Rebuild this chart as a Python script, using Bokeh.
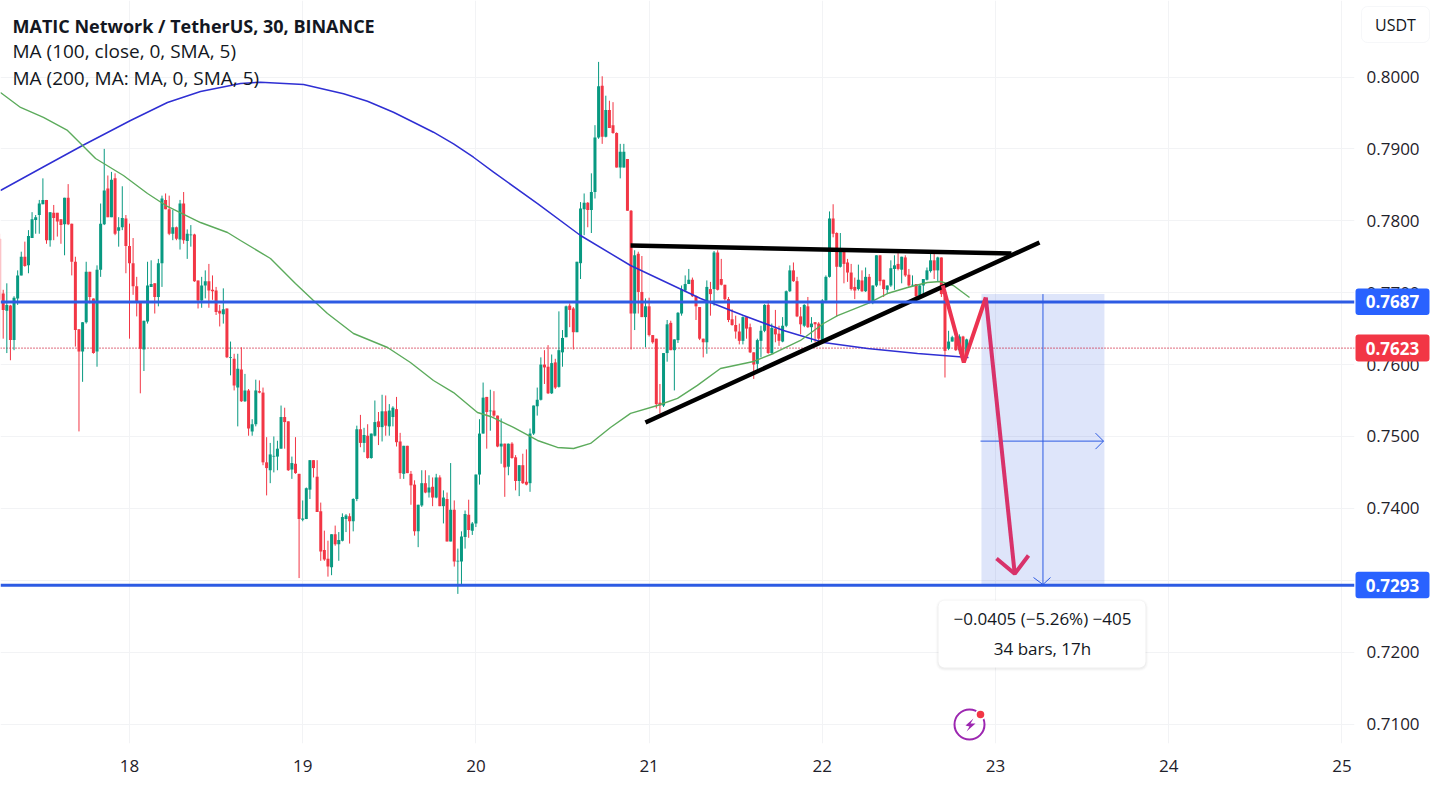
from bokeh.plotting import figure
from bokeh.embed import file_html
from bokeh.resources import INLINE
from bokeh.models import Range1d, FixedTicker, PrintfTickFormatter, Label, BoxAnnotation, ColumnDataSource

FONT = "Open Sans"
title_lines = ["MATIC Network / TetherUS, 30, BINANCE", "MA (100, close, 0, SMA, 5)", "MA (200, MA: MA, 0, SMA, 5)"]
day_ticks = [18, 19, 20, 21, 22, 23, 24, 25]
price_ticks = [0.71, 0.72, 0.73, 0.74, 0.75, 0.76, 0.77, 0.78, 0.79, 0.80]
level_upper = 0.7687
level_lower = 0.7293
last_price = 0.7623
first_bar = -36
bars_per_day = 48

open_p = [
 .7775,.7699,.7675,.7682,.7634,.7692,.7724,.7750,.7738,.7776,
 .7801,.7808,.7823,.7829,.7773,.7811,.7811,.7802,.7795,.7832,
 .7796,.7743,.7649,.7618,.7659,.7729,.7692,.7618,.7732,.7795,
 .7845,.7805,.7859,.7786,.7791,.7803,.7765,.7741,.7709,.7686,
 .7621,.7660,.7708,.7713,.7694,.7741,.7829,.7816,.7782,.7791,
 .7774,.7824,.7772,.7780,.7781,.7717,.7689,.7710,.7716,.7704,
 .7703,.7675,.7670,.7678,.7609,.7608,.7568,.7593,.7549,.7564,
 .7507,.7517,.7563,.7561,.7464,.7453,.7472,.7472,.7483,.7527,
 .7521,.7454,.7462,.7448,.7384,.7385,.7426,.7467,.7444,.7396,
 .7342,.7330,.7318,.7364,.7350,.7355,.7385,.7389,.7382,.7413,
 .7510,.7491,.7501,.7470,.7501,.7521,.7513,.7535,.7514,.7527,
 .7538,.7493,.7448,.7487,.7448,.7433,.7368,.7404,.7435,.7422,
 .7430,.7415,.7443,.7403,.7413,.7354,.7398,.7326,.7326,.7360,
 .7391,.7369,.7379,.7447,.7504,.7555,.7535,.7536,.7529,.7486,
 .7490,.7458,.7490,.7471,.7438,.7460,.7437,.7435,.7504,.7542,
 .7551,.7600,.7597,.7560,.7603,.7569,.7617,.7638,.7682,.7678,
 .7645,.7741,.7816,.7825,.7815,.7840,.7916,.7988,.7917,.7954,
 .7933,.7922,.7874,.7874,.7886,.7814,.7671,.7754,.7701,.7666,
 .7681,.7641,.7636,.7547,.7543,.7616,.7658,.7620,.7634,.7671,
 .7703,.7712,.7718,.7695,.7680,.7636,.7631,.7705,.7705,.7756,
 .7719,.7711,.7691,.7663,.7655,.7646,.7633,.7666,.7652,.7617,
 .7601,.7633,.7647,.7683,.7616,.7650,.7643,.7632,.7654,.7702,
 .7731,.7716,.7667,.7654,.7681,.7652,.7659,.7657,.7631,.7689,
 .7722,.7803,.7783,.7736,.7759,.7742,.7728,.7708,.7705,.7717,
 .7702,.7722,.7687,.7710,.7752,.7718,.7704,.7710,.7733,.7740,
 .7732,.7749,.7725,.7710,.7712,.7696,.7710,.7718,.7730,.7745,
 .7731,.7749,.7701,.7622,.7632,.7638,.7620,.7639,.7614]
close_p = [
 .7690,.7676,.7683,.7634,.7693,.7724,.7750,.7737,.7779,.7802,
 .7805,.7824,.7829,.7773,.7812,.7804,.7799,.7794,.7832,.7795,
 .7743,.7648,.7618,.7659,.7729,.7694,.7616,.7732,.7796,.7842,
 .7805,.7857,.7782,.7791,.7804,.7765,.7741,.7709,.7686,.7622,
 .7661,.7710,.7712,.7694,.7741,.7831,.7816,.7782,.7791,.7775,
 .7824,.7773,.7782,.7781,.7716,.7689,.7710,.7716,.7703,.7702,
 .7673,.7671,.7677,.7610,.7610,.7571,.7594,.7549,.7564,.7511,
 .7517,.7564,.7561,.7464,.7456,.7475,.7473,.7483,.7527,.7520,
 .7453,.7463,.7449,.7385,.7386,.7428,.7467,.7456,.7395,.7340,
 .7329,.7319,.7364,.7350,.7356,.7388,.7390,.7382,.7413,.7510,
 .7491,.7502,.7470,.7504,.7520,.7513,.7535,.7515,.7536,.7540,
 .7492,.7449,.7487,.7449,.7432,.7368,.7405,.7435,.7422,.7429,
 .7415,.7443,.7403,.7415,.7354,.7398,.7326,.7327,.7361,.7392,
 .7370,.7379,.7447,.7504,.7554,.7534,.7536,.7529,.7486,.7490,
 .7457,.7490,.7470,.7438,.7460,.7435,.7433,.7504,.7543,.7551,
 .7600,.7596,.7560,.7602,.7568,.7620,.7637,.7681,.7676,.7645,
 .7743,.7817,.7825,.7815,.7840,.7916,.7987,.7917,.7954,.7929,
 .7922,.7874,.7896,.7896,.7814,.7671,.7752,.7701,.7666,.7681,
 .7641,.7631,.7545,.7543,.7616,.7656,.7620,.7635,.7672,.7704,
 .7712,.7718,.7695,.7681,.7636,.7631,.7708,.7698,.7756,.7704,
 .7711,.7691,.7662,.7655,.7646,.7633,.7666,.7650,.7617,.7600,
 .7634,.7647,.7683,.7616,.7651,.7642,.7633,.7654,.7702,.7731,
 .7716,.7667,.7656,.7683,.7652,.7657,.7656,.7636,.7689,.7722,
 .7803,.7782,.7736,.7758,.7740,.7728,.7705,.7703,.7718,.7702,
 .7722,.7687,.7710,.7752,.7716,.7705,.7710,.7734,.7738,.7733,
 .7750,.7724,.7710,.7711,.7695,.7710,.7719,.7731,.7745,.7731,
 .7749,.7698,.7619,.7632,.7638,.7620,.7639,.7613,.7635]
high_p = [
 .7782,.7704,.7713,.7683,.7695,.7731,.7757,.7771,.7787,.7812,
 .7808,.7829,.7859,.7829,.7812,.7822,.7811,.7802,.7832,.7851,
 .7796,.7750,.7649,.7659,.7743,.7729,.7692,.7738,.7824,.7900,
 .7863,.7868,.7866,.7805,.7848,.7808,.7796,.7776,.7722,.7686,
 .7661,.7743,.7745,.7713,.7747,.7835,.7838,.7835,.7815,.7792,
 .7829,.7840,.7788,.7794,.7782,.7717,.7722,.7731,.7740,.7724,
 .7708,.7683,.7706,.7678,.7632,.7615,.7615,.7624,.7587,.7566,
 .7524,.7579,.7578,.7568,.7499,.7491,.7500,.7494,.7543,.7540,
 .7521,.7472,.7499,.7448,.7411,.7429,.7467,.7467,.7467,.7408,
 .7369,.7355,.7364,.7376,.7367,.7393,.7392,.7393,.7414,.7515,
 .7530,.7512,.7517,.7504,.7550,.7534,.7558,.7557,.7545,.7542,
 .7555,.7505,.7487,.7487,.7452,.7439,.7405,.7453,.7453,.7446,
 .7443,.7448,.7446,.7425,.7422,.7463,.7411,.7344,.7368,.7397,
 .7412,.7381,.7447,.7524,.7575,.7555,.7565,.7563,.7529,.7525,
 .7490,.7490,.7492,.7474,.7460,.7476,.7482,.7511,.7543,.7568,
 .7610,.7620,.7627,.7614,.7608,.7674,.7648,.7682,.7685,.7680,
 .7743,.7826,.7838,.7826,.7866,.7933,.8021,.8001,.7974,.7967,
 .7965,.7923,.7907,.7907,.7886,.7815,.7759,.7757,.7751,.7692,
 .7693,.7641,.7636,.7573,.7616,.7662,.7661,.7635,.7673,.7710,
 .7724,.7733,.7721,.7696,.7680,.7636,.7717,.7715,.7758,.7759,
 .7747,.7711,.7694,.7677,.7668,.7657,.7667,.7667,.7657,.7617,
 .7636,.7654,.7684,.7689,.7657,.7676,.7654,.7666,.7703,.7738,
 .7742,.7722,.7680,.7684,.7694,.7666,.7659,.7659,.7691,.7724,
 .7813,.7823,.7784,.7783,.7759,.7747,.7740,.7721,.7739,.7731,
 .7735,.7726,.7710,.7752,.7752,.7718,.7710,.7745,.7752,.7755,
 .7750,.7752,.7733,.7724,.7712,.7711,.7719,.7735,.7754,.7759,
 .7750,.7749,.7703,.7647,.7640,.7639,.7642,.7640,.7636]
low_p = [
 .7636,.7636,.7616,.7606,.7620,.7683,.7724,.7736,.7727,.7776,
 .7782,.7782,.7823,.7768,.7764,.7773,.7778,.7768,.7752,.7794,
 .7724,.7625,.7507,.7576,.7657,.7685,.7615,.7597,.7722,.7794,
 .7805,.7805,.7780,.7764,.7787,.7727,.7636,.7697,.7667,.7560,
 .7591,.7657,.7708,.7671,.7681,.7708,.7816,.7780,.7773,.7773,
 .7760,.7768,.7747,.7764,.7715,.7678,.7679,.7692,.7679,.7690,
 .7669,.7653,.7657,.7609,.7585,.7564,.7514,.7548,.7548,.7501,
 .7501,.7514,.7560,.7460,.7418,.7435,.7450,.7453,.7483,.7483,
 .7452,.7441,.7448,.7303,.7382,.7385,.7413,.7443,.7395,.7327,
 .7327,.7305,.7307,.7348,.7327,.7354,.7367,.7351,.7368,.7410,
 .7485,.7478,.7469,.7469,.7500,.7488,.7493,.7501,.7501,.7514,
 .7486,.7441,.7441,.7449,.7405,.7362,.7346,.7402,.7421,.7415,
 .7403,.7414,.7403,.7379,.7354,.7354,.7319,.7281,.7293,.7344,
 .7359,.7363,.7374,.7433,.7504,.7483,.7508,.7527,.7485,.7462,
 .7416,.7446,.7469,.7425,.7417,.7434,.7432,.7423,.7502,.7529,
 .7550,.7573,.7559,.7559,.7566,.7568,.7597,.7638,.7652,.7621,
 .7645,.7719,.7780,.7791,.7783,.7831,.7914,.7907,.7916,.7929,
 .7921,.7874,.7859,.7874,.7814,.7621,.7648,.7671,.7666,.7624,
 .7639,.7629,.7539,.7532,.7541,.7604,.7620,.7564,.7630,.7668,
 .7702,.7712,.7694,.7662,.7634,.7610,.7615,.7668,.7682,.7703,
 .7710,.7689,.7659,.7654,.7636,.7628,.7628,.7636,.7616,.7580,
 .7589,.7610,.7645,.7615,.7615,.7631,.7626,.7631,.7652,.7701,
 .7715,.7666,.7642,.7652,.7651,.7631,.7631,.7631,.7629,.7687,
 .7721,.7777,.7667,.7735,.7713,.7715,.7703,.7691,.7703,.7701,
 .7701,.7685,.7684,.7708,.7710,.7694,.7698,.7708,.7704,.7731,
 .7713,.7722,.7708,.7708,.7694,.7695,.7698,.7717,.7728,.7719,
 .7716,.7694,.7582,.7620,.7632,.7619,.7615,.7610,.7613]

ma_slow_day = [17.255,17.486,17.729,18.006,18.219,18.410,18.641,18.756,19.005,19.236,19.374,19.524,19.640,19.755,19.871,19.986,20.102,20.356,20.604,20.893,21.199,21.297,21.545,21.776,22.007,22.261,22.550,22.844]
ma_slow = [.78421,.78727,.79047,.79395,.79645,.79798,.79910,.79928,.79896,.79766,.79663,.79510,.79371,.79232,.79071,.78884,.78676,.78240,.77795,.77378,.77030,.76919,.76683,.76474,.76307,.76224,.76154,.76098]
ma_fast_day = [17.255,17.371,17.503,17.642,17.729,17.804,17.965,18.104,18.219,18.410,18.566,18.641,18.814,18.958,19.062,19.143,19.293,19.490,19.622,19.755,19.871,20.009,20.084,20.217,20.356,20.471,20.564,20.662,20.777,20.893,21.048,21.164,21.279,21.412,21.603,21.718,21.874,22.007,22.088,22.261,22.376,22.492,22.607,22.682,22.757,22.850]
ma_fast = [.79784,.79576,.79437,.79256,.79047,.78866,.78630,.78379,.78199,.77976,.77837,.77726,.77475,.77128,.76891,.76710,.76432,.76237,.76029,.75778,.75611,.75333,.75278,.75125,.74944,.74847,.74833,.74903,.75125,.75320,.75431,.75529,.75710,.75946,.76043,.76154,.76335,.76571,.76682,.76849,.76988,.77072,.77142,.77155,.77100,.76933]

res_day = [20.893, 23.092]
res_price = [.77656, .77545]
sup_day = [20.979, 23.254]
sup_price = [.75194, .77698]
path_day = [22.696, 22.817, 22.944, 23.111]
path_price = [.77100, .76030, .76933, .73090]
tool_day = [22.919, 23.629]
tool_price = [.7293, .7698]

W, H = 1436, 786
PX_L, PX_R, PX_B = 0, 1354, 743
def xd(px): return 18 + (px - 129) / 173.2
def yd(py): return 0.8 - (py - 76.5) / 7189
def py_of(price): return 76.5 + (0.8 - price) * 7189

GREEN, RED, BLUE = "#089981", "#f23645", "#2d5be3"

p = figure(width=W, height=H, output_backend="svg", toolbar_location=None,
           x_range=Range1d(xd(PX_L), xd(PX_R)), y_range=Range1d(yd(PX_B), yd(0)),
           y_axis_location="right", min_border_left=0, min_border_top=0,
           min_border_right=W - PX_R, min_border_bottom=H - PX_B, outline_line_color=None)
p.styles = {"position": "absolute", "left": "0px", "top": "0px"}

p.xgrid.ticker = FixedTicker(ticks=day_ticks)
p.ygrid.ticker = FixedTicker(ticks=price_ticks)
p.xgrid.grid_line_color = "#f2f3f5"
p.ygrid.grid_line_color = "#f2f3f5"
for ax in (p.xaxis[0], p.yaxis[0]):
    ax.axis_line_color = None
    ax.major_tick_line_color = None
    ax.minor_tick_line_color = None
    ax.major_label_text_font = FONT
    ax.major_label_text_font_size = "17px"
    ax.major_label_text_color = "#1f222b"
p.xaxis[0].ticker = FixedTicker(ticks=day_ticks)
p.xaxis[0].formatter = PrintfTickFormatter(format="%d")
p.xaxis[0].major_label_standoff = 10
p.yaxis[0].ticker = FixedTicker(ticks=price_ticks)
p.yaxis[0].formatter = PrintfTickFormatter(format="%.4f")
p.yaxis[0].major_label_standoff = 6

p.quad(left=[tool_day[0]], right=[tool_day[1]], bottom=[tool_price[0]], top=[tool_price[1]],
       fill_color="#2050e0", fill_alpha=0.15, line_color=None)
p.line(x=[xd(PX_L), xd(PX_R)], y=[last_price, last_price], line_color="#cc1530", line_width=1.2, line_dash="1 2")

days = [18 + (first_bar + i) / bars_per_day for i in range(len(open_p))]
colors = [GREEN if c >= o else RED for o, c in zip(open_p, close_p)]
src = ColumnDataSource(dict(x=days, o=open_p, h=high_p, l=low_p, c=close_p, color=colors,
                            top=[max(a, b) for a, b in zip(open_p, close_p)],
                            bot=[min(a, b) for a, b in zip(open_p, close_p)]))
p.segment(x0="x", x1="x", y0="l", y1="h", line_color="color", line_width=1, source=src)
p.vbar(x="x", width=3 / 173.2, top="top", bottom="bot", fill_color="color", line_color=None, source=src)

p.line(ma_slow_day, ma_slow, line_color="#2f2fd3", line_width=1.5)
p.line(ma_fast_day, ma_fast, line_color="#5cab5c", line_width=1.4)
p.line(res_day, res_price, line_color="#000000", line_width=4.5)
p.line(sup_day, sup_price, line_color="#000000", line_width=4.5)
for lv in (level_upper, level_lower):
    p.line([xd(PX_L), xd(PX_R)], [lv, lv], line_color=BLUE, line_width=3)

cx = (tool_day[0] + tool_day[1]) / 2
cy = (tool_price[0] + tool_price[1]) / 2 - 0.0002
p.line([cx, cx], tool_price, line_color=BLUE, line_width=1)
p.line([xd(980), xd(1103)], [cy, cy], line_color=BLUE, line_width=1)
p.line([xd(1033), cx, xd(1050)], [yd(577), tool_price[0] + 0.0001, yd(577)], line_color=BLUE, line_width=1)
p.line([xd(1095), xd(1103), xd(1095)], [cy + 8 / 7189, cy, cy - 8 / 7189], line_color=BLUE, line_width=1)

p.line(path_day[:3], path_price[:3], line_color="#ec3350", line_width=4)
p.line(path_day[2:], path_price[2:], line_color="#d8326a", line_width=4)
p.line([xd(996), path_day[-1], xd(1028)], [yd(558), path_price[-1], yd(555)], line_color="#d8326a", line_width=4)

# lightning badge
p.scatter([xd(969)], [yd(724)], size=30, fill_color=None, line_color="#9c27b0", line_width=2)
p.patch([xd(v) for v in (973, 965, 969, 966, 975, 970)], [yd(v) for v in (718, 725, 726, 731, 723, 723)],
        fill_color="#9c27b0", line_color=None)
p.scatter([xd(980)], [yd(714)], size=11, fill_color="#ffffff", line_color=None)
p.scatter([xd(980)], [yd(714)], size=7.5, fill_color=RED, line_color=None)

def box(l, r, t, b, fill, line=None, radius=0, alpha=1.0):
    p.add_layout(BoxAnnotation(left=xd(l), right=xd(r), top=yd(t), bottom=yd(b), fill_color=fill, fill_alpha=alpha,
                               line_color=line, line_width=1, border_radius=radius))

def text(s, px, py, size, color="#131722", align="left", bold=False):
    p.add_layout(Label(x=xd(px), y=yd(py), text=s, text_font=FONT,
                       text_font_size=f"{size}px", text_color=color,
                       text_align=align, text_baseline="middle", text_font_style="bold" if bold else "normal"))

text(title_lines[0], 12, 25, 18, bold=True)
text(title_lines[1], 12, 50, 19)
text(title_lines[2], 12, 77, 19)

for d, a in ((3, 0.012), (2, 0.02), (1, 0.03)):
    box(938 - d, 1145 + d, 600 - d + 1, 667 + d + 1, "#000000", None, 6 + d, a)
box(938, 1145, 600, 667, "#ffffff", None, 6)
text("\u22120.0405 (\u22125.26%) \u2212405", 1042, 618, 17, align="center")
text("34 bars, 17h", 1042, 648, 17, align="center")

# price-scale badges: a transparent strip laid over the right of the chart
STRIP = W - PX_R
s = figure(width=STRIP, height=H, output_backend="svg", toolbar_location=None,
           x_range=Range1d(PX_R, W), y_range=Range1d(H, 0), x_axis_type=None, y_axis_type=None,
           min_border=0, outline_line_color=None, background_fill_color=None, border_fill_color=None)
s.grid.visible = False
s.styles = {"position": "absolute", "left": f"{PX_R}px", "top": "0px"}

def badge(l, r, t, b, fill, label, color, bold=True, line=None, radius=3, cxp=1392, size=17):
    s.add_layout(BoxAnnotation(left=l, right=r, top=t, bottom=b, fill_color=fill, fill_alpha=1,
                               line_color=line, line_width=1, border_radius=radius))
    s.add_layout(Label(x=cxp, y=(t + b) / 2, text=label, text_font=FONT, text_font_size=f"{size}px", text_color=color,
                       text_align="center", text_baseline="middle", text_font_style="bold" if bold else "normal"))

badge(1361, 1429, 6, 42, "#ffffff", "USDT", "#131722", bold=False, line="#e0e3eb", radius=6, cxp=1395, size=16)
badge(1355, 1429, py_of(level_upper) - 13.5, py_of(level_upper) + 13, "#2962ff", f"{level_upper:.4f}", "#ffffff")
badge(1355, 1429, py_of(last_price) - 13.5, py_of(last_price) + 13.5, RED, f"{last_price:.4f}", "#ffffff")
badge(1355, 1429, py_of(level_lower) - 13.5, py_of(level_lower) + 13, "#2962ff", f"{level_lower:.4f}", "#ffffff")

open("out.html", "w").write(file_html([p, s], INLINE))
